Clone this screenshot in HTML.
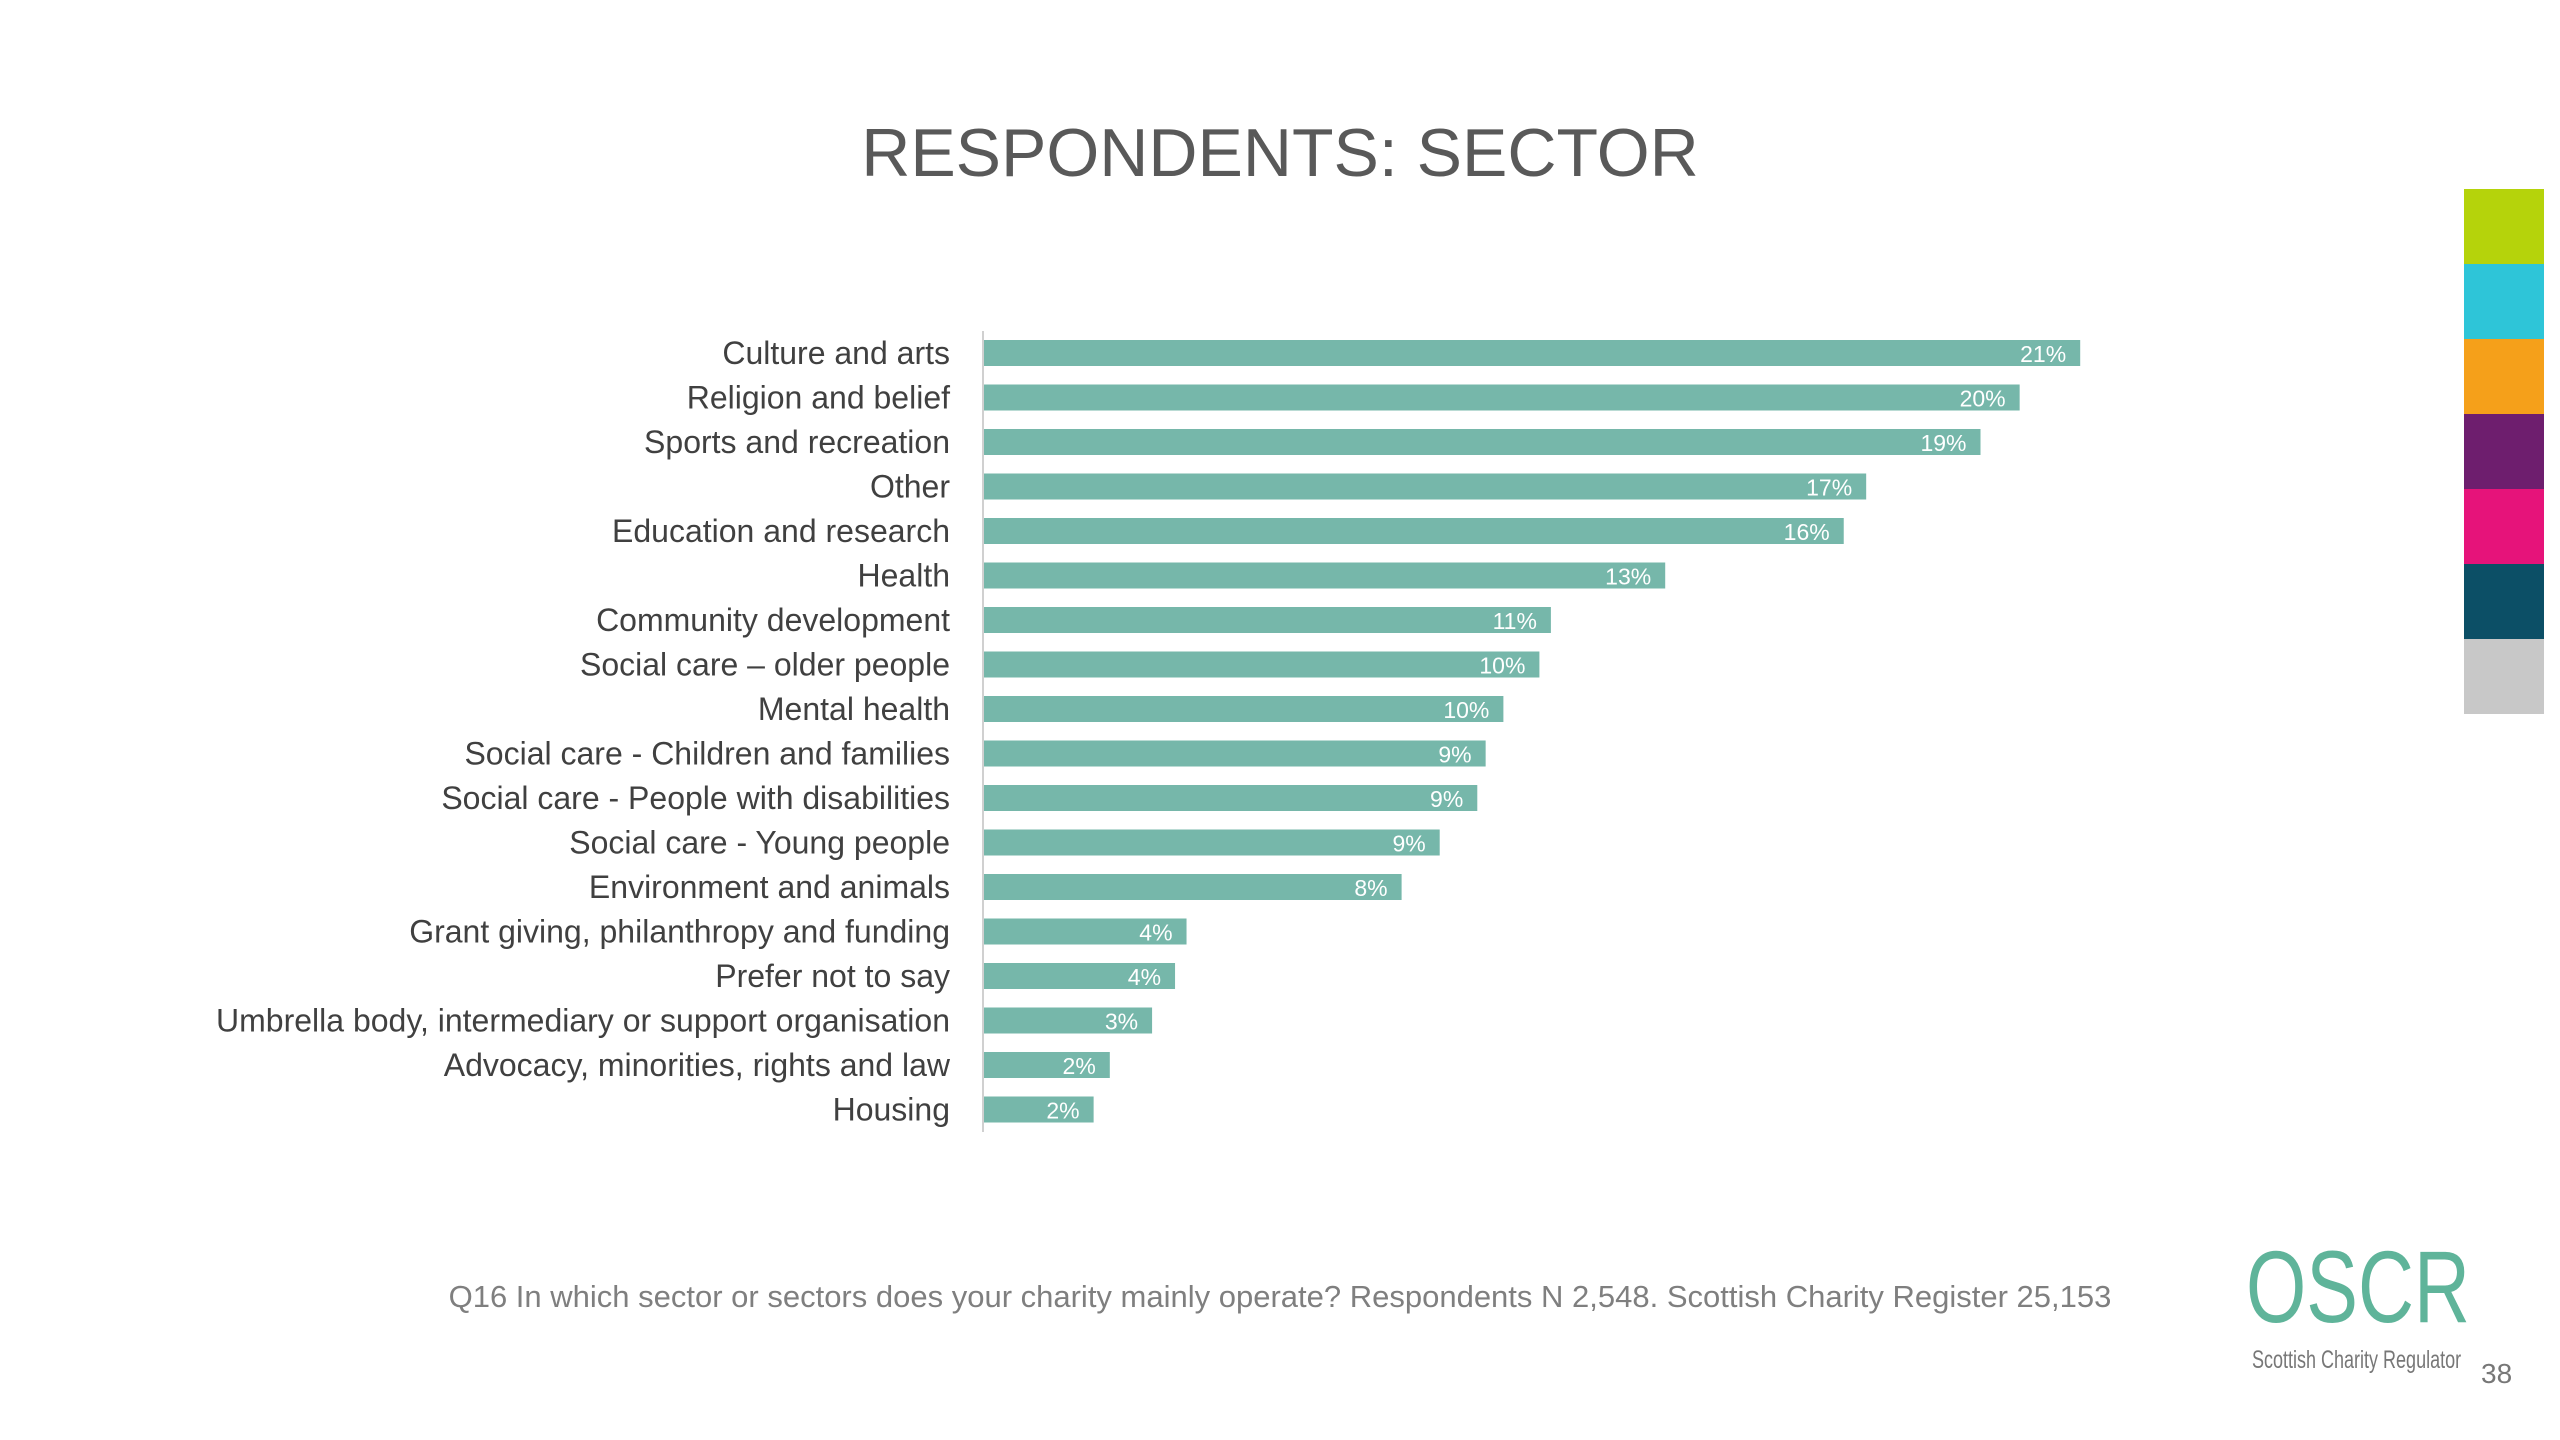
<!DOCTYPE html>
<html><head><meta charset="utf-8"><style>
body{margin:0;width:2560px;height:1440px;background:#fff;position:relative;overflow:hidden;font-family:"Liberation Sans",sans-serif}
#title{position:absolute;left:0;width:2560px;top:114px;text-align:center;font-size:68px;color:#595959;letter-spacing:0px}
.strip{position:absolute;left:2464px;width:80px;height:75px}
#foot{position:absolute;left:400px;width:1760px;top:1279px;text-align:center;font-size:31px;color:#7f7f7f;white-space:nowrap}
#logo{position:absolute;left:2246px;top:1236px;font-size:102px;color:#5fb49a;transform:scaleX(0.76);transform-origin:left top;line-height:1}
#logosub{position:absolute;left:2252px;top:1346px;font-size:25px;color:#777;transform:scaleX(0.72);transform-origin:left top;white-space:nowrap}
#pg{position:absolute;left:2481px;top:1358px;font-size:28px;color:#777}
</style></head><body>
<div id="title">RESPONDENTS: SECTOR</div>
<div class="strip" style="top:189px;background:#b5d30b"></div>
<div class="strip" style="top:264px;background:#2ec5d8"></div>
<div class="strip" style="top:339px;background:#f5a01a"></div>
<div class="strip" style="top:414px;background:#6e1e6e"></div>
<div class="strip" style="top:489px;background:#e6137a"></div>
<div class="strip" style="top:564px;background:#0c4f66"></div>
<div class="strip" style="top:639px;background:#c8c8c8"></div>
<svg id="chart" width="2560" height="1440" style="position:absolute;left:0;top:0"></svg>
<div id="foot">Q16 In which sector or sectors does your charity mainly operate? Respondents N 2,548. Scottish Charity Register 25,153</div>
<div id="logo">OSCR</div>
<div id="logosub">Scottish Charity Regulator</div>
<div id="pg">38</div>
<script>
const categories=["Culture and arts","Religion and belief","Sports and recreation","Other","Education and research","Health","Community development","Social care – older people","Mental health","Social care - Children and families","Social care - People with disabilities","Social care - Young people","Environment and animals","Grant giving, philanthropy and funding","Prefer not to say","Umbrella body, intermediary or support organisation","Advocacy, minorities, rights and law","Housing"];
const values=[21,19.84,19.09,16.9,16.47,13.05,10.86,10.64,9.95,9.61,9.45,8.73,8.0,3.88,3.66,3.22,2.41,2.1];
const valueLabels=["21%","20%","19%","17%","16%","13%","11%","10%","10%","9%","9%","9%","8%","4%","4%","3%","2%","2%"];
const NS="http://www.w3.org/2000/svg";
const svg=document.getElementById('chart');
const x0=984, pxPer=52.2;
function xs(v){return x0+v*pxPer;}
function yc(i){return 353+i*44.5;}
const barH=26;
const ax=document.createElementNS(NS,'line');
ax.setAttribute('x1',983);ax.setAttribute('x2',983);ax.setAttribute('y1',331);ax.setAttribute('y2',1132);
ax.setAttribute('stroke','#d0d0d0');ax.setAttribute('stroke-width','2');


svg.appendChild(ax);
categories.forEach((c,i)=>{
  const r=document.createElementNS(NS,'rect');
  r.setAttribute('x',x0);r.setAttribute('y',yc(i)-barH/2);
  r.setAttribute('width',xs(values[i])-x0);r.setAttribute('height',barH);r.setAttribute('fill','#76b7aa');
  
  
  svg.appendChild(r);
  const t=document.createElementNS(NS,'text');
  t.setAttribute('x',950);t.setAttribute('y',yc(i)+11);t.setAttribute('text-anchor','end');
  t.setAttribute('font-size','32');t.setAttribute('fill','#404040');t.setAttribute('font-family','Liberation Sans, sans-serif');
  t.textContent=c;
  
  
  svg.appendChild(t);
  const v=document.createElementNS(NS,'text');
  v.setAttribute('x',xs(values[i])-14);v.setAttribute('y',yc(i)+9);v.setAttribute('text-anchor','end');
  v.setAttribute('font-size','23');v.setAttribute('fill','#ffffff');v.setAttribute('font-family','Liberation Sans, sans-serif');
  v.textContent=valueLabels[i];
  
  
  svg.appendChild(v);
});
</script>
</body></html>
